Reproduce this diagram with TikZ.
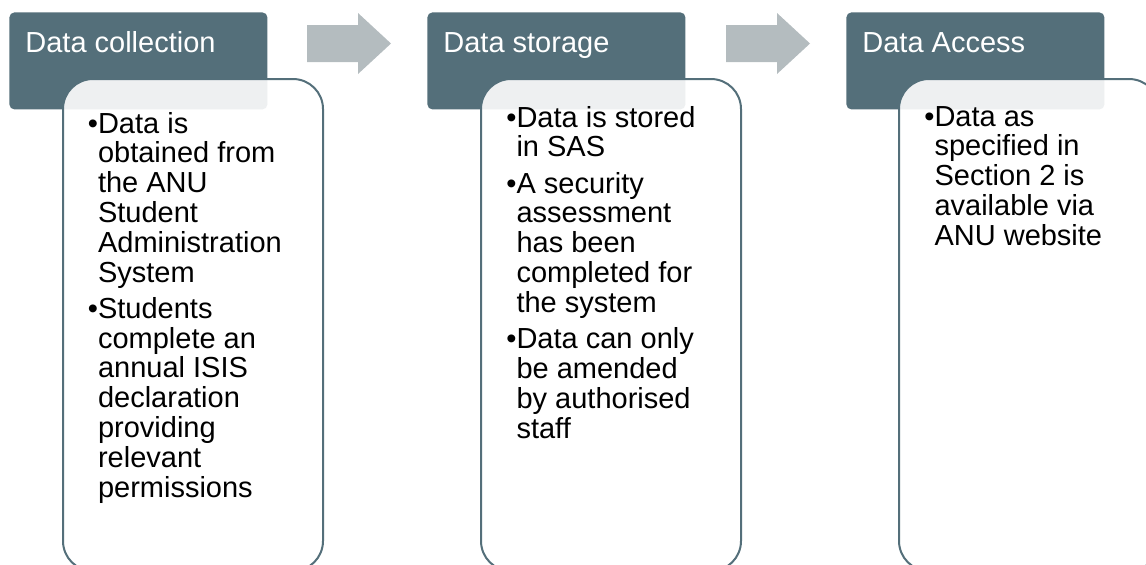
\documentclass[tikz,border=0pt]{standalone}
\usepackage{fontspec}
\setmainfont{Liberation Sans}
\definecolor{hdr}{RGB}{84,111,122}
\definecolor{arr}{RGB}{180,188,191}
\newlength\bulw
\newcommand\bitm{\par\hangindent=\bulw\hangafter=1\noindent\textbullet}
\newcommand\bodytext[1]{\parbox[t]{160pt}{\fontsize{14.5}{14.9}\selectfont\settowidth{\bulw}{\textbullet}\setlength{\parskip}{3.25pt}\setlength{\parindent}{0pt}#1}}
\begin{document}
\begin{tikzpicture}[x=0.5pt,y=-0.5pt,
  hdrbox/.style={fill=hdr, rounded corners=2.5pt, minimum width=129pt, minimum height=48.5pt, inner sep=0, anchor=north west},
  bodybox/.style={draw=hdr, line width=1pt, fill=white, fill opacity=0.9, rounded corners=15pt, minimum width=130pt, minimum height=246pt, anchor=north west, inner sep=0},
  hdrtext/.style={anchor=base west, inner sep=0, text=white, font=\fontsize{14.5}{17}\selectfont},
  btext/.style={anchor=base west, inner sep=0, text=black},
  blockarrow/.style={fill=arr, draw=none}]
\useasboundingbox (0,0) rectangle (1146,564);
\clip (0,0) rectangle (1146,564);
% headers
\node[hdrbox] (h1) at (9,12) {};
\node[hdrbox] (h2) at (427,12) {};
\node[hdrbox] (h3) at (846,12) {};
\node[hdrtext] (t1) at (25,52) {Data collection};
\node[hdrtext] (t2) at (443,52) {Data storage};
\node[hdrtext] (t3) at (862,52) {Data Access};
% arrows
\fill[blockarrow] (307,25) -- (358,25) -- (358,13) -- (391,43.5) -- (358,74) -- (358,62) -- (307,62) -- cycle;
\fill[blockarrow] (726,25) -- (777,25) -- (777,13) -- (810,43.5) -- (777,74) -- (777,62) -- (726,62) -- cycle;
% bodies
\node[bodybox] (b1) at (62,78) {};
\node[bodybox] (b2) at (480,78) {};
\node[bodybox] (b3) at (898,78) {};
\node[btext] (x1) at (87.5,133) {\bodytext{\bitm Data is\\ obtained from\\ the ANU\\ Student\\ Administration\\ System\bitm Students\\ complete an\\ annual ISIS\\ declaration\\ providing\\ relevant\\ permissions}};
\node[btext] (x2) at (506,127) {\bodytext{\bitm Data is stored\\ in SAS\bitm A security\\ assessment\\ has been\\ completed for\\ the system\bitm Data can only\\ be amended\\ by authorised\\ staff}};
\node[btext] (x3) at (924,126) {\bodytext{\bitm Data as\\ specified in\\ Section 2 is\\ available via\\ ANU website}};
\end{tikzpicture}
\end{document}
